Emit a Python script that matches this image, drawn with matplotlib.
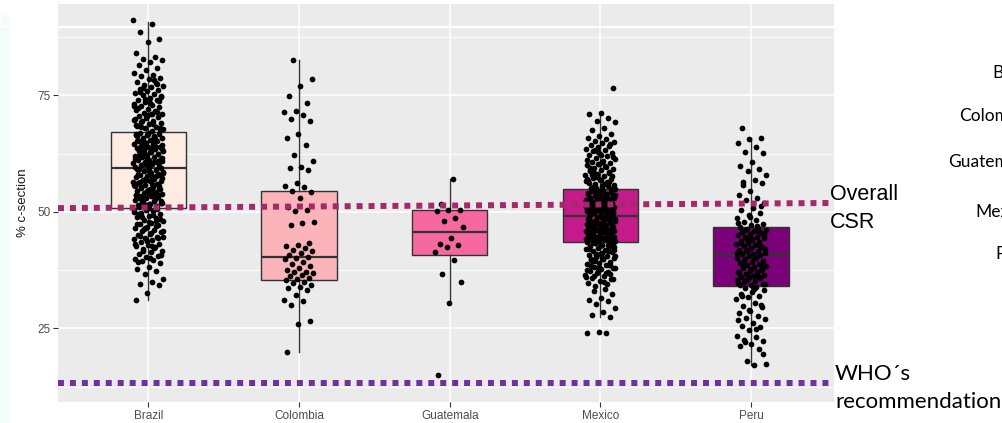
import matplotlib; matplotlib.use('Agg')
import matplotlib.pyplot as plt
import numpy as np
from matplotlib.patches import Rectangle

plt.rcParams['font.family'] = ['Liberation Sans', 'DejaVu Sans']

countries = ['Brazil', 'Colombia', 'Guatemala', 'Mexico', 'Peru']
box_colors = ['#FEEBE2', '#FBB4B9', '#F768A1', '#C51B8A', '#7A0177']

# box statistics
box_q1 = [50.9, 35.4, 40.8, 43.6, 34.1]
box_med = [59.5, 40.3, 45.6, 49.1, 40.7]
box_q3 = [67.2, 54.4, 50.4, 54.9, 46.8]
whisk_lo = [31.1, 20.0, 30.5, 27.5, 17.2]
whisk_hi = [90.8, 82.6, 57.0, 71.2, 65.8]

# jittered points (% c-section per unit)
brazil = [91.2, 90.4, 88.5, 87.1, 86.5, 84.0, 83.3, 82.9, 82.5, 82.1, 81.6, 80.9, 80.4,
          79.8, 79.3, 79.1, 78.7, 78.5, 77.9, 77.6, 77.2, 77.0, 76.8, 76.3, 76.1, 75.9, 75.5, 75.2, 75.0,
          74.7, 74.5, 74.1, 73.9, 73.6, 73.2, 73.0, 72.7, 72.5, 72.1, 71.9, 71.7, 71.3, 71.1, 70.9, 70.6, 70.4, 70.2,
          69.9, 69.6, 69.4, 69.1, 68.8, 68.5, 68.3, 68.0, 67.7, 67.4,
          67.0, 66.8, 66.5, 66.4, 66.1, 65.9, 65.8, 65.4, 65.2, 65.1, 64.8, 64.6, 64.5, 64.2, 64.0, 63.9,
          63.6, 63.5, 63.2, 63.0, 62.9, 62.6, 62.4, 62.3, 62.0, 61.8, 61.7, 61.4, 61.2, 61.1, 60.8, 60.6,
          60.5, 60.2, 60.0, 59.9, 59.6, 66.7, 65.6, 64.3, 63.4, 62.8, 61.9, 61.0, 60.3, 59.7, 64.9, 62.1, 60.9,
          59.4, 59.2, 58.9, 58.7, 58.6, 58.3, 58.0, 57.9, 57.7, 57.4, 57.1, 56.9, 56.7, 56.6, 56.2, 56.0,
          55.8, 55.7, 55.3, 55.1, 54.9, 54.6, 54.5, 54.2, 54.0, 53.8, 53.5, 53.3, 53.1, 52.9, 52.6, 52.4,
          52.2, 51.9, 51.7, 51.5, 51.2, 51.0, 58.4, 57.5, 56.4, 55.5, 54.4, 53.6, 52.7, 51.8, 57.2, 55.0, 53.0, 51.3,
          50.8, 50.5, 50.1, 49.8, 49.6, 49.2, 48.9, 48.7, 48.3, 48.0, 47.7, 47.5, 47.1, 46.8, 46.6, 46.2,
          45.9, 45.7, 45.3, 45.0, 44.7, 44.4, 44.1, 43.9, 43.5, 43.2, 42.9, 42.6, 42.4, 42.0, 41.7, 41.3,
          41.0, 40.6, 40.3, 39.8, 39.6, 39.4, 39.0, 38.2, 37.8, 37.4, 36.6, 35.5, 35.0, 34.5, 34.2, 32.6, 31.1,
          78.2, 76.6, 74.9, 73.4, 72.3, 71.5, 70.7, 69.7, 68.9, 68.2, 67.5, 66.9, 66.3, 65.7, 65.0, 64.4,
          63.8, 63.1, 62.5, 61.6, 61.3, 60.7, 60.1, 59.5, 58.8, 58.2, 57.6, 57.0, 56.5, 55.9, 55.4, 54.8,
          54.1, 53.7, 53.2, 52.5, 52.0, 51.6, 51.1, 50.7, 50.3, 49.9, 49.4, 48.8, 48.4, 47.9, 47.3, 46.9,
          46.4, 45.8, 45.5, 44.9, 44.3, 43.7, 43.0, 42.2, 41.5, 40.8, 40.0, 39.2, 77.4, 74.3, 72.8, 71.0,
          69.3, 67.9, 66.6, 65.3, 64.1, 62.7, 61.5, 60.4, 59.3, 58.1, 56.8, 55.6, 54.3, 53.4, 52.3, 50.9,
          49.5, 48.1, 46.5, 44.6, 42.7, 75.7, 73.7, 70.5, 68.6, 66.2, 63.7, 61.0, 58.5, 56.1, 53.9, 51.4]
colombia = [82.6, 78.5, 77.0, 74.9, 73.4, 71.7, 71.5, 70.8, 69.9, 69.5, 66.7, 65.9, 64.4, 62.1, 60.9,
            59.7, 59.4, 58.9, 56.2, 55.6, 55.4, 54.4, 54.3, 52.9, 51.1, 50.4, 50.2, 47.9, 47.6, 47.2,
            43.3, 42.9, 42.6, 42.2, 41.8, 41.5, 41.1, 40.8, 40.4, 40.1, 39.8, 39.3, 38.9, 38.3, 37.9,
            37.5, 37.2, 37.1, 36.8, 36.5, 36.2, 35.8, 35.6, 35.4, 35.0, 34.7, 34.3, 33.9, 33.6, 33.3,
            32.2, 31.1, 30.8, 30.0, 26.5, 26.0, 19.9]
guatemala = [57.0, 51.7, 50.5, 50.3, 50.2, 48.6, 48.1, 46.8, 44.4, 43.1, 42.8, 42.4, 41.4, 39.6,
             36.7, 34.9, 30.5, 15.0]
mexico = [76.6, 71.3, 71.0, 70.2, 69.5, 69.3, 68.0, 67.5, 66.8, 66.3,
          65.9, 65.7, 65.3, 65.0, 64.8, 64.4, 64.1, 63.9, 63.5, 63.2, 63.0, 62.7, 62.4, 62.1, 61.9, 61.6,
          61.3, 61.0, 60.8, 60.5, 60.2, 60.0, 59.7, 59.5, 59.2, 58.9, 58.7, 58.4, 58.1, 57.9, 57.6, 57.3,
          57.1, 56.8, 56.6, 56.3, 56.0, 55.8, 55.5, 55.2, 64.6, 62.9, 61.2, 59.9, 58.3, 57.7, 56.9, 56.2, 55.6, 55.1,
          54.8, 54.6, 54.5, 54.2, 54.0, 53.9, 53.7, 53.5, 53.3, 53.2, 53.0, 52.8, 52.6, 52.5, 52.3, 52.1,
          51.9, 51.8, 51.6, 51.4, 51.2, 51.1, 50.9, 50.7, 50.5, 50.4, 50.2, 50.0, 49.8, 49.7, 49.5, 49.3,
          49.2, 54.3, 53.6, 52.9, 52.2, 51.5, 50.8, 50.1, 49.4, 54.7, 53.1, 51.7, 50.3, 49.9, 52.7, 51.0, 53.8, 50.6,
          49.0, 48.8, 48.7, 48.5, 48.3, 48.1, 48.0, 47.8, 47.6, 47.4, 47.3, 47.1, 46.9, 46.7, 46.6, 46.4,
          46.2, 46.0, 45.9, 45.7, 45.5, 45.3, 45.2, 45.0, 44.8, 44.6, 44.5, 44.3, 44.1, 43.9, 43.8, 43.6,
          48.6, 47.9, 47.2, 46.5, 45.8, 45.1, 44.4, 43.7, 48.2, 46.8, 45.4, 44.0, 47.5, 46.1,
          43.4, 43.2, 42.9, 42.7, 42.5, 42.2, 42.0, 41.8, 41.5, 41.3, 41.0, 40.8, 40.6, 40.3, 40.1, 39.8,
          39.6, 39.3, 39.0, 38.8, 38.5, 38.2, 38.0, 37.7, 37.4, 37.1, 36.8, 36.5, 36.2, 35.9, 35.5, 35.2,
          34.8, 34.5, 34.1, 42.4, 41.1, 39.9, 38.6, 37.3, 36.0,
          33.5, 33.0, 32.3, 31.5, 31.1, 30.8, 30.2, 29.3, 28.6, 27.9, 27.5, 24.2, 24.0, 24.1,
          63.3, 61.8, 60.6, 59.4, 58.5, 57.5, 56.7, 55.9, 55.3, 54.9, 54.4, 54.1, 53.8, 53.4, 53.0, 52.7,
          52.4, 52.0, 51.7, 51.3, 50.9, 50.6, 50.2, 49.9, 49.6, 49.2, 48.9, 48.5, 48.2, 47.9, 47.6, 47.3,
          46.9, 46.6, 46.3, 45.9, 45.6, 45.3, 44.9, 44.6, 44.2, 43.9, 43.5, 43.1, 42.6, 42.1, 41.6, 41.0,
          40.5, 39.9, 39.4, 38.7, 38.1, 37.5, 36.9, 36.3, 35.6, 62.2, 59.0, 56.4, 54.6, 52.6, 51.2, 50.0,
          48.7, 47.4, 46.0, 44.7, 43.3, 41.9, 40.2, 38.3, 36.6, 60.3, 57.0, 53.5, 51.5, 49.3, 47.0, 45.0,
          42.8, 40.7, 37.9, 35.0, 58.0, 55.0, 52.2, 48.4, 44.3, 39.5]
peru = [68.0, 65.8, 65.6, 64.7, 64.0, 62.9, 62.6, 60.8, 59.9, 59.3, 58.8, 57.9, 56.9, 56.5, 56.2,
        54.4, 53.6, 52.9, 52.6, 51.9, 50.8, 50.4, 49.7, 49.4, 48.6, 48.3, 47.9, 47.5, 47.2,
        46.7, 46.5, 46.3, 46.1, 45.9, 45.6, 45.4, 45.2, 45.0, 44.7, 44.5, 44.3, 44.0, 43.8, 43.6, 43.3,
        43.1, 42.9, 42.6, 42.4, 42.2, 41.9, 41.7, 41.5, 41.2, 41.0, 40.9, 40.7, 40.5, 40.2, 40.0, 39.8,
        39.5, 39.3, 39.1, 38.8, 38.6, 38.4, 38.1, 37.9, 37.7, 37.4, 37.2, 37.0, 36.7, 36.5, 36.3, 36.0,
        35.8, 35.6, 35.3, 35.1, 34.9, 34.6, 34.4, 34.2, 45.8, 44.1, 42.0, 40.4, 38.9, 37.5, 36.1, 34.8,
        33.9, 33.6, 33.2, 32.8, 32.4, 32.0, 31.7, 31.2, 30.4, 29.8, 29.5, 28.7, 28.4, 27.6, 27.3, 27.1,
        26.2, 25.5, 25.2, 24.7, 23.4, 23.1, 22.6, 22.3, 21.6, 21.3, 20.5, 17.9, 17.3, 17.2,
        55.7, 51.3, 48.9, 47.7, 46.9, 46.0, 45.1, 44.2, 43.4, 42.7, 41.8, 41.1, 40.3, 39.6, 38.7, 37.8,
        36.9, 36.2, 35.4, 34.5, 33.4, 31.9, 30.1, 28.9, 26.8, 24.9, 22.0, 19.6]
points = [brazil, colombia, guatemala, mexico, peru]

# reference lines drawn over the chart (value at left edge, value at right edge)
csr_line = [50.8, 51.9]
who_line = [13.3, 13.3]
top_rule = 89.7

W, H = 1002, 423
fig = plt.figure(figsize=(W / 100, H / 100), dpi=100)
fig.patch.set_facecolor('white')
ax = fig.add_axes([58 / W, (H - 402) / H, (834 - 58) / W, (402 - 4) / H])
ax.set_facecolor('#EBEBEB')
for s in ax.spines.values(): s.set_visible(False)
ax.set_xlim(-0.6, 4.55); ax.set_ylim(9.2, 94.6)

# ggplot-ish grid
for v in [12.5, 37.5, 62.5, 87.5]: ax.axhline(v, color='white', lw=0.6, zorder=0.5)
for v in [25, 50, 75]: ax.axhline(v, color='white', lw=1.1, zorder=0.6)
for i in range(len(countries)): ax.axvline(i, color='white', lw=1.1, zorder=0.6)
ax.axhline(top_rule, color='white', lw=1.7, zorder=0.6)

stats = [dict(med=box_med[i], q1=box_q1[i], q3=box_q3[i], whislo=whisk_lo[i], whishi=whisk_hi[i], fliers=[])
         for i in range(len(countries))]
bp = ax.bxp(stats, positions=range(len(countries)), widths=0.5, patch_artist=True, showcaps=False,
            boxprops=dict(edgecolor='#333333', linewidth=1.0),
            whiskerprops=dict(color='#333333', linewidth=1.0),
            medianprops=dict(color='#333333', linewidth=1.6), manage_ticks=False, zorder=2)
for patch, c in zip(bp['boxes'], box_colors): patch.set_facecolor(c)

jw = 0.1
for i, vals in enumerate(points):
    n = len(vals)
    off = ((np.arange(n) * 0.6180339887 + 0.3 * i) % 1 - 0.5) * 2 * jw
    ax.scatter(i + off, vals, s=17, color='black', linewidths=0, zorder=3)

ax.plot([-0.6, 4.52], csr_line, color='#A4286A', lw=4.3, dashes=(1, 1), solid_capstyle='butt',
        dash_capstyle='butt', zorder=4, clip_on=False)
ax.plot([-0.6, 4.55], who_line, color='#7030A0', lw=4.3, dashes=(1, 1), dash_capstyle='butt',
        zorder=4, clip_on=False)

ax.set_xticks(range(len(countries)))
ax.set_xticklabels(countries)
ax.set_yticks([25, 50, 75])
ax.tick_params(axis='both', colors='#333333', length=3.5, width=0.8, labelsize=8.5, labelcolor='#4D4D4D', pad=2)
ax.set_ylabel('% c-section', fontsize=9.5, color='#1A1A1A', labelpad=6)

# annotations pasted beside the panel
fig.text(830 / W, 1 - 200 / H, 'Overall', fontsize=15.5, va='baseline', ha='left')
fig.text(830 / W, 1 - 228 / H, 'CSR', fontsize=15.5, va='baseline', ha='left')
fig.text(835 / W, 1 - 380 / H, 'WHO\u00b4s', fontsize=16, va='baseline', ha='left', family=['Lato', 'DejaVu Sans'])
fig.text(835 / W, 1 - 408 / H, 'recommendation', fontsize=16, va='baseline', ha='left', family=['Lato', 'DejaVu Sans'])

# legend labels, cut off by the right edge as in the original screenshot
legend_x = [992, 959, 948, 975, 995]
legend_y = [78, 121, 167, 217, 259]
for name, lx, ly in zip(countries, legend_x, legend_y):
    fig.text(lx / W, 1 - ly / H, name, fontsize=12.5, va='baseline', ha='left', family=['Lato', 'DejaVu Sans'])

# light strip at left edge of the screenshot
fig.add_artist(Rectangle((0, 0), 10 / W, (H - 28) / H, transform=fig.transFigure, color='#F2FCFB', lw=0))
fig.add_artist(Rectangle((2 / W, 1 - 26 / H), 8 / W, 11 / H, transform=fig.transFigure, color='#F2FCFB', lw=0))

fig.savefig('out.png', dpi=100)
